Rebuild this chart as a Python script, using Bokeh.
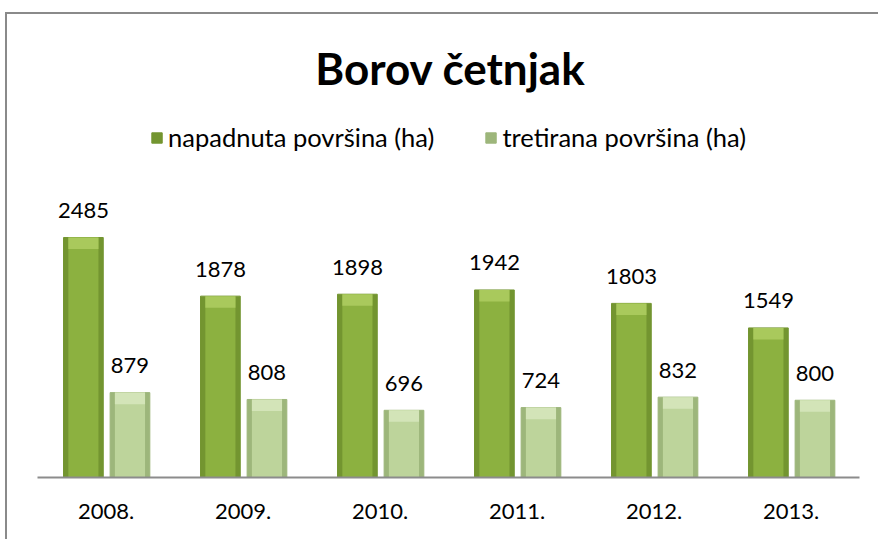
from bokeh.plotting import figure
from bokeh.models import FactorRange, Range1d, Legend, LegendItem, ColumnDataSource, Label
from bokeh.transform import dodge
from bokeh.embed import file_html
from bokeh.resources import INLINE
from bokeh.core.properties import value

# ---- data ----
title_text = "Borov četnjak"
years = ["2008.", "2009.", "2010.", "2011.", "2012.", "2013."]
napadnuta = [2485, 1878, 1898, 1942, 1803, 1549]
tretirana = [879, 808, 696, 724, 832, 800]
series_names = ["napadnuta površina (ha)", "tretirana površina (ha)"]

BEVEL = 120  # depth of the lighter top bevel, in data units
src = ColumnDataSource(dict(
    year=years,
    a=napadnuta,
    b=tretirana,
    a_bev=[v - BEVEL for v in napadnuta],
    b_bev=[v - BEVEL for v in tretirana],
    a_lbl=[str(v) for v in napadnuta],
    b_lbl=[str(v) for v in tretirana],
))

FONT = "Lato"
DARK_EDGE = "#739530"
DARK = "#8cb140"
DARK_TOP = "#a9c95c"
LIGHT_EDGE = "#9db67b"
LIGHT = "#bdd49b"
LIGHT_TOP = "#d3e4b8"

OFF_A, OFF_B, W, WI = -0.165, 0.175, 0.29, 0.22

# frame: page x 37..859, y 12..477
p = figure(
    x_range=FactorRange(factors=years, range_padding=0),
    y_range=Range1d(0, 4815),
    width=878, height=539,
    output_backend="svg", toolbar_location=None,
    min_border_left=37, min_border_right=19, min_border_bottom=62, min_border_top=12,
)
p.border_fill_color = None
p.background_fill_color = None
p.styles = {"box-shadow": "inset 5px 12px 0 0 #ffffff, inset 7px 14px 0 0 #8a8a8a"}

title = Label(x=413, y=410, x_units="screen", y_units="screen", text=title_text,
              text_align="center", text_baseline="alphabetic",
              text_font=FONT, text_font_style="bold", text_font_size="44px",
              text_color="black")
p.add_layout(title)

xa = dodge("year", OFF_A, range=p.x_range)
xb = dodge("year", OFF_B, range=p.x_range)

r1 = p.vbar(x=xa, top="a", width=W, source=src,
            fill_color=DARK_EDGE, line_color=DARK_EDGE, line_width=1)
p.vbar(x=xa, top="a", width=WI, source=src, fill_color=DARK, line_color=None)
p.vbar(x=xa, top="a", bottom="a_bev", width=WI, source=src,
       fill_color=DARK_TOP, line_color=None)

r2 = p.vbar(x=xb, top="b", width=W, source=src,
            fill_color=LIGHT_EDGE, line_color=LIGHT_EDGE, line_width=1)
p.vbar(x=xb, top="b", width=WI, source=src, fill_color=LIGHT, line_color=None)
p.vbar(x=xb, top="b", bottom="b_bev", width=WI, source=src,
       fill_color=LIGHT_TOP, line_color=None)

p.text(x=xa, y="a", text="a_lbl", source=src,
       text_align="center", text_baseline="alphabetic", y_offset=-27,
       text_font=value(FONT), text_font_size=value("22px"), text_color="black")
p.text(x=xb, y="b", text="b_lbl", source=src,
       text_align="center", text_baseline="alphabetic", y_offset=-27,
       text_font=value(FONT), text_font_size=value("22px"), text_color="black")

legend = Legend(items=[LegendItem(label=series_names[0], renderers=[r1]),
                       LegendItem(label=series_names[1], renderers=[r2])],
                orientation="horizontal", location="top_center",
                border_line_color=None, background_fill_alpha=0,
                label_text_font=FONT, label_text_font_size="25.5px",
                label_text_color="black",
                glyph_width=13, glyph_height=13, label_standoff=5, spacing=50,
                padding=0, margin=110)
p.add_layout(legend)

p.yaxis.visible = False
p.xgrid.grid_line_color = None
p.ygrid.grid_line_color = None
p.outline_line_color = None
p.xaxis.major_tick_line_color = None
p.xaxis.minor_tick_line_color = None
p.xaxis.axis_line_color = "#8c8c8c"
p.xaxis.axis_line_width = 2
p.xaxis.major_label_text_font = FONT
p.xaxis.major_label_text_font_size = "22px"
p.xaxis.major_label_text_color = "black"
p.xaxis.major_label_standoff = 20

open("out.html", "w").write(file_html(p, INLINE))
